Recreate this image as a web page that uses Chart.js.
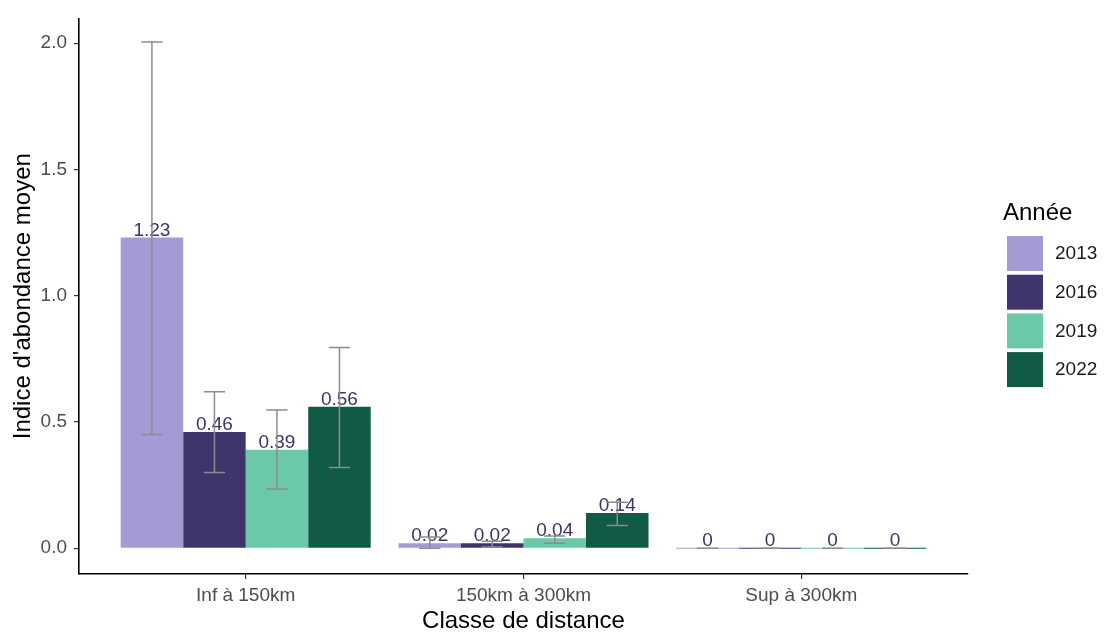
<!DOCTYPE html>
<html>
<head>
<meta charset="utf-8">
<script src="https://cdn.jsdelivr.net/npm/chart.js@4/dist/chart.umd.min.js"></script>
<style>
  body { margin: 0; background: #fff; }
  canvas { display: block; }
</style>
</head>
<body>
<canvas id="chart" width="1104" height="632"></canvas>
<script>
// Data
const categories = ["Inf à 150km", "150km à 300km", "Sup à 300km"];
const years = ["2013", "2016", "2019", "2022"];
const colors = ["#a39bd4", "#3f356c", "#6bc8a8", "#105a46"];

const values2013 = [1.23, 0.02, 0];
const values2016 = [0.46, 0.02, 0];
const values2019 = [0.39, 0.04, 0];
const values2022 = [0.56, 0.14, 0];

const low2013 = [0.45, 0.0, 0];
const low2016 = [0.30, 0.005, 0];
const low2019 = [0.235, 0.02, 0];
const low2022 = [0.32, 0.09, 0];

const high2013 = [2.005, 0.045, 0];
const high2016 = [0.62, 0.028, 0];
const high2019 = [0.547, 0.048, 0];
const high2022 = [0.795, 0.182, 0];

const yTicks = [0, 0.5, 1.0, 1.5, 2.0];

const allValues = [values2013, values2016, values2019, values2022];
const allLow = [low2013, low2016, low2019, low2022];
const allHigh = [high2013, high2016, high2019, high2022];

const FONT = "'Liberation Sans', Arial, sans-serif";

// Error bars + value labels
const barExtras = {
  id: "barExtras",
  afterDatasetsDraw(chart) {
    const ctx = chart.ctx;
    const y = chart.scales.y;
    ctx.save();
    // value labels
    ctx.font = "19px " + FONT;
    ctx.fillStyle = "#3b3566";
    ctx.textAlign = "center";
    ctx.textBaseline = "alphabetic";
    chart.data.datasets.forEach((ds, di) => {
      chart.getDatasetMeta(di).data.forEach((bar, i) => {
        const v = allValues[di][i];
        const txt = v === 0 ? "0" : v.toFixed(2);
        ctx.fillText(txt, bar.x, y.getPixelForValue(v) - 2);
      });
    });
    // error bars
    ctx.strokeStyle = "#8c8c8c";
    ctx.lineWidth = 1.5;
    chart.data.datasets.forEach((ds, di) => {
      chart.getDatasetMeta(di).data.forEach((bar, i) => {
        const yl = y.getPixelForValue(allLow[di][i]);
        const yh = y.getPixelForValue(allHigh[di][i]);
        const hw = bar.width * 0.17;
        ctx.beginPath();
        ctx.moveTo(bar.x, yl); ctx.lineTo(bar.x, yh);
        ctx.moveTo(bar.x - hw, yl); ctx.lineTo(bar.x + hw, yl);
        ctx.moveTo(bar.x - hw, yh); ctx.lineTo(bar.x + hw, yh);
        ctx.stroke();
      });
    });
    ctx.restore();
  }
};

// Legend on the right
const sideLegend = {
  id: "sideLegend",
  afterDraw(chart) {
    const ctx = chart.ctx;
    ctx.save();
    ctx.fillStyle = "#000";
    ctx.font = "24px " + FONT;
    ctx.textAlign = "left";
    ctx.textBaseline = "middle";
    ctx.fillText("Année", 1003, 213);
    ctx.font = "19px " + FONT;
    years.forEach((yr, i) => {
      const top = 236 + i * 38.7;
      ctx.fillStyle = colors[i];
      ctx.fillRect(1007, top, 36, 35);
      ctx.fillStyle = "#1a1a1a";
      ctx.fillText(yr, 1055, top + 18);
    });
    ctx.restore();
  }
};

const datasets = years.map((yr, di) => ({
  label: yr,
  data: allValues[di].map((v, i) => ({ x: i, y: v })),
  backgroundColor: colors[di],
  borderWidth: 0,
  minBarLength: 1,
  categoryPercentage: 0.9,
  barPercentage: 1.0
}));

new Chart(document.getElementById("chart"), {
  type: "bar",
  data: { datasets },
  options: {
    responsive: false,
    animation: false,
    devicePixelRatio: 1,
    layout: { padding: { top: 15, right: 136, left: 0, bottom: 0 } },
    plugins: { legend: { display: false }, tooltip: { enabled: false } },
    scales: {
      x: {
        type: "linear",
        offset: false,
        min: -0.6,
        max: 2.6,
        afterBuildTicks(scale) { scale.ticks = [0, 1, 2].map(v => ({ value: v })); },
        afterFit(scale) { scale.height = 58; },
        ticks: {
          autoSkip: false,
          maxRotation: 0,
          padding: 5,
          color: "#4d4d4d",
          font: { family: FONT, size: 19 },
          callback: v => categories[v]
        },
        grid: { offset: false, drawOnChartArea: false, drawTicks: true, tickLength: 5, color: "#333", lineWidth: 1.2 },
        border: { display: true, color: "#000", width: 1.6 },
        title: {
          display: true,
          text: "Classe de distance",
          color: "#000",
          font: { family: FONT, size: 24 },
          padding: { top: 0, bottom: -4 }
        }
      },
      y: {
        min: -0.102,
        max: 2.098,
        afterBuildTicks(scale) { scale.ticks = yTicks.map(v => ({ value: v })); },
        afterFit(scale) { scale.width = 79; },
        ticks: {
          padding: 7,
          color: "#4d4d4d",
          font: { family: FONT, size: 19 },
          callback: v => v.toFixed(1)
        },
        grid: { drawOnChartArea: false, drawTicks: true, tickLength: 5, color: "#333", lineWidth: 1.2 },
        border: { display: true, color: "#000", width: 1.6 },
        title: {
          display: true,
          text: "Indice d'abondance moyen",
          color: "#000",
          font: { family: FONT, size: 24 },
          padding: { top: 9, bottom: 0 }
        }
      }
    }
  },
  plugins: [barExtras, sideLegend]
});
</script>
</body>
</html>
